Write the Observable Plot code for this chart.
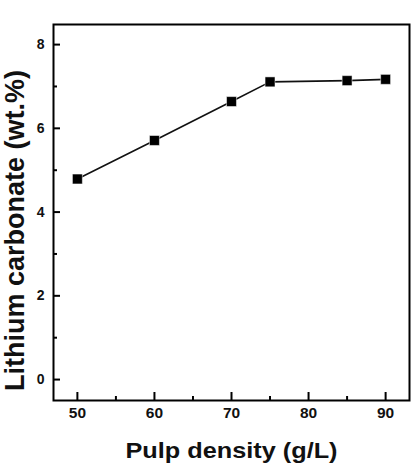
<!DOCTYPE html>
<html>
<head>
<meta charset="utf-8">
<script src="https://cdn.jsdelivr.net/npm/d3@7"></script>
<script src="https://cdn.jsdelivr.net/npm/@observablehq/plot@0.6"></script>
<style>
  html, body { margin: 0; padding: 0; background: #fff; }
  svg { display: block; }
</style>
</head>
<body>
<div id="chart"></div>
<script>
const pulpDensity = [50, 60, 70, 75, 85, 90];
const lithiumCarbonate = [4.79, 5.71, 6.64, 7.11, 7.14, 7.17];
const xMajorTicks = [50, 60, 70, 80, 90];
const xMinorTicks = [55, 65, 75, 85];
const yMajorTicks = [0, 2, 4, 6, 8];
const yMinorTicks = [1, 3, 5, 7];
const xLabel = "Pulp density (g/L)";
const yLabel = "Lithium carbonate (wt.%)";

const data = pulpDensity.map((x, i) => ({x, y: lithiumCarbonate[i]}));
const blank = () => "";

const chart = Plot.plot({
  width: 411,
  height: 468,
  marginLeft: 53,
  marginTop: 24,
  marginRight: 2,
  marginBottom: 68,
  style: {fontFamily: "Liberation Sans, Arial, sans-serif", background: "#fff", color: "#000"},
  x: {domain: [46.9, 93.1]},
  y: {domain: [-0.5, 8.48]},
  marks: [
    Plot.axisX(xMajorTicks, {tickSize: 8, dy: -8, tickFormat: blank, strokeWidth: 2, label: null}),
    Plot.axisX(xMinorTicks, {tickSize: 4, dy: -4, tickFormat: blank, strokeWidth: 2, label: null}),
    Plot.axisX(xMajorTicks, {tickSize: 0, tickPadding: 6, fontSize: 15.5, fontWeight: "bold", label: null, fill: "#111"}),
    Plot.axisY(yMajorTicks, {tickSize: 7, dx: 7, tickFormat: blank, strokeWidth: 2, label: null}),
    Plot.axisY(yMinorTicks, {tickSize: 4, dx: 4, tickFormat: blank, strokeWidth: 2, label: null}),
    Plot.axisY(yMajorTicks, {tickSize: 0, tickPadding: 9, fontSize: 14, fontWeight: "bold", label: null, fill: "#111"}),
    Plot.frame({stroke: "#000", strokeWidth: 2}),
    Plot.line(data, {x: "x", y: "y", stroke: "#111", strokeWidth: 1.6}),
    Plot.dot(data, {x: "x", y: "y", symbol: "square", r: 5.6, fill: "#000", stroke: "#fff", strokeWidth: 0.5}),
    Plot.text([xLabel], {frameAnchor: "bottom", dy: 50, text: d => d, fontSize: 22, fontWeight: "bold", lineAnchor: "middle", textAnchor: "middle", fill: "#111", className: "xlab"}),
    Plot.text([yLabel], {frameAnchor: "left", dx: -38, dy: 18, rotate: -90, text: d => d, fontSize: 27, fontWeight: "bold", lineAnchor: "middle", textAnchor: "middle", fill: "#111"})
  ]
});
// stretch the x-axis title horizontally as in the reference
d3.select(chart).selectAll(".xlab text").attr("textLength", 212).attr("lengthAdjust", "spacingAndGlyphs");
document.getElementById("chart").appendChild(chart);
</script>
</body>
</html>
